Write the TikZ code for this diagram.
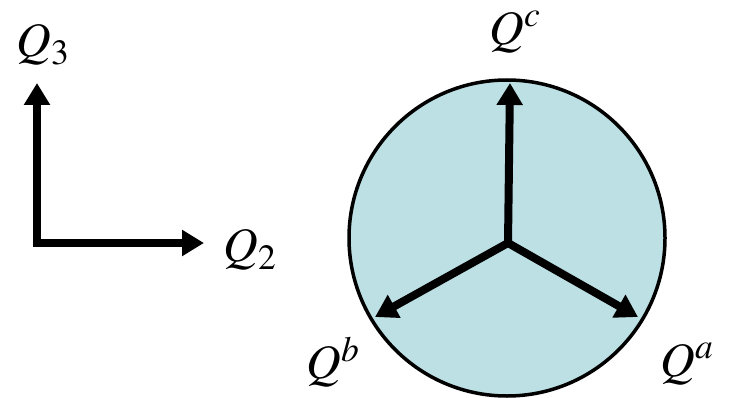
\documentclass[tikz,border=0pt]{standalone}
\usepackage{mathptmx}
\usepackage{xcolor}
\usetikzlibrary{arrows.meta,positioning}
\definecolor{discfill}{RGB}{188,224,228}

\begin{document}
\begin{tikzpicture}[x=1pt, y=1pt,
  vec/.style={line width=8pt, -{Triangle[length=22pt,width=25pt]}},
  disc/.style={circle, draw, line width=3.5pt, fill=discfill, minimum size=316pt, inner sep=0pt},
  lbl/.style={inner sep=0pt, font=\fontsize{48}{52}\selectfont}]
\useasboundingbox (0,0) rectangle (733,397);
% axes on the left
\coordinate (o) at (37,154);
\coordinate (q3tip) at (37,314);
\coordinate (q2tip) at (204,154);
\draw[line width=7.5pt, {Triangle[length=22pt,width=25pt]}-{Triangle[length=22pt,width=25pt]}]
  (q3tip) -- (o) -- (q2tip);
\node[lbl] (q3) at (43,352) {$Q_3$};
\node[lbl] (q2) at (250,147) {$Q_2$};
% disc with three vectors
\node[disc] (d) at (507,159) {};
\coordinate (c) at (508,154);
\coordinate (ctip) at (510,314);
\coordinate (btip) at (375,80);
\coordinate (atip) at (638,80);
\draw[vec] (c) -- (ctip);
\draw[vec] (c) -- (btip);
\draw[vec] (c) -- (atip);
\node[lbl] (qc) at (515,365) {$Q^c$};
\node[lbl] (qb) at (333,35) {$Q^b$};
\node[lbl] (qa) at (687,33) {$Q^a$};
\end{tikzpicture}
\end{document}
